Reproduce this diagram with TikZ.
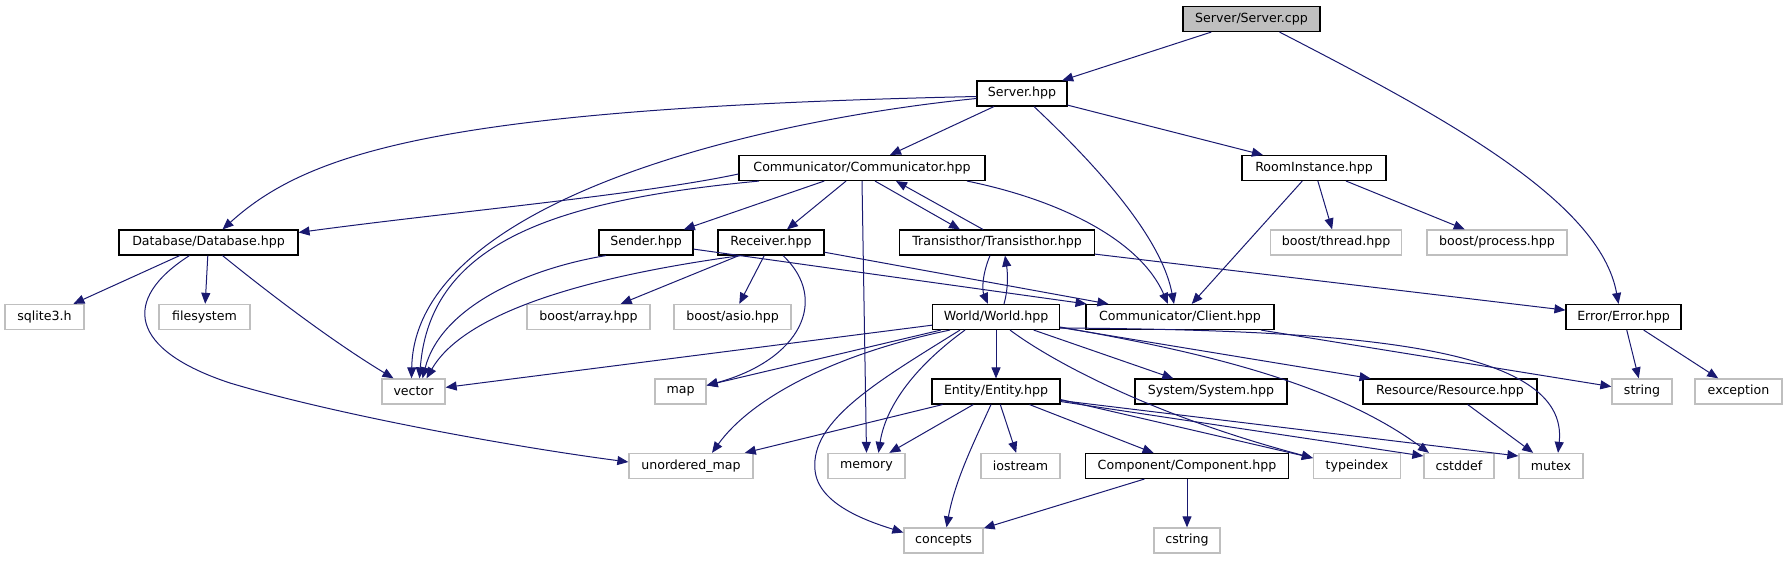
\documentclass[tikz,border=0pt]{standalone}
\usepackage{fontspec}
\setmainfont{DejaVu Sans}
\usetikzlibrary{arrows.meta}
\definecolor{edgeblue}{HTML}{191970}
\definecolor{extgrey}{HTML}{BFBFBF}
\tikzset{
  incbox/.style={draw=black, fill=white, line width=1.1pt, minimum height=25pt,
    inner xsep=2pt, inner ysep=0pt, font=\fontsize{12.6}{14}\selectfont},
  extbox/.style={incbox, draw=extgrey, line width=1.3pt},
  srcbox/.style={incbox, fill=extgrey},
  inc/.style={-{Triangle[length=11pt,width=9pt]}, draw=edgeblue, line width=1pt},
}
\begin{document}
\begin{tikzpicture}[x=1pt, y=-1pt]
    \useasboundingbox (0,0) rectangle (1788,560);
    % rank 1 and 2
    \node[srcbox, minimum width=137pt] (cpp) at (1251.5,19) {Server/Server.cpp};
    \node[incbox, minimum width=90pt] (srvh) at (1022,93.5) {Server.hpp};
    % rank 3
    \node[incbox, minimum width=246pt] (comm) at (862,168) {Communicator/Communicator.hpp};
    \node[incbox, minimum width=144pt] (room) at (1314,168) {RoomInstance.hpp};
    % rank 4
    \node[incbox, minimum width=179pt] (db) at (208.5,242.5) {Database/Database.hpp};
    \node[incbox, minimum width=94pt] (send) at (646,242.5) {Sender.hpp};
    \node[incbox, minimum width=106pt] (recv) at (771,242.5) {Receiver.hpp};
    \node[incbox, minimum width=195pt] (trans) at (997,242.5) {Transisthor/Transisthor.hpp};
    \node[extbox, minimum width=131pt] (bthread) at (1336,242.5) {boost/thread.hpp};
    \node[extbox, minimum width=140pt] (bproc) at (1497,242.5) {boost/process.hpp};
    % rank 5
    \node[extbox, minimum width=79pt] (sqlite) at (44.5,317) {sqlite3.h};
    \node[extbox, minimum width=91pt] (fs) at (204.5,317) {filesystem};
    \node[extbox, minimum width=123pt] (barray) at (588.5,317) {boost/array.hpp};
    \node[extbox, minimum width=117pt] (basio) at (732.5,317) {boost/asio.hpp};
    \node[incbox, minimum width=127pt] (world) at (996,317) {World/World.hpp};
    \node[incbox, minimum width=188pt] (client) at (1180,317) {Communicator/Client.hpp};
    \node[incbox, minimum width=115pt] (err) at (1623.5,317) {Error/Error.hpp};
    % rank 6
    \node[extbox, minimum width=63pt] (vec) at (413.5,391.5) {vector};
    \node[extbox, minimum width=51pt] (map) at (680.5,391.5) {map};
    \node[incbox, minimum width=128pt] (entity) at (996,391.5) {Entity/Entity.hpp};
    \node[incbox, minimum width=152pt] (sys) at (1211,391.5) {System/System.hpp};
    \node[incbox, minimum width=174pt] (res) at (1450,391.5) {Resource/Resource.hpp};
    \node[extbox, minimum width=60pt] (str) at (1642,391.5) {string};
    \node[extbox, minimum width=87pt] (exc) at (1738.5,391.5) {exception};
    % rank 7
    \node[extbox, minimum width=124pt] (umap) at (691,466) {unordered\_map};
    \node[extbox, minimum width=77pt] (mem) at (866.5,466) {memory};
    \node[extbox, minimum width=79pt] (ios) at (1020.5,466) {iostream};
    \node[incbox, minimum width=203pt] (comp) at (1187,466) {Component/Component.hpp};
    \node[extbox, minimum width=87pt] (tidx) at (1357,466) {typeindex};
    \node[extbox, minimum width=70pt] (cstddef) at (1459,466) {cstddef};
    \node[extbox, minimum width=64pt] (mutex) at (1551,466) {mutex};
    % rank 8
    \node[extbox, minimum width=79pt] (concepts) at (943.5,540.5) {concepts};
    \node[extbox, minimum width=66pt] (cstring) at (1187,540.5) {cstring};

    % Server/Server.cpp
    \draw[inc] (cpp) -- (srvh);
    \draw[inc] ([xshift=28pt]cpp.south) .. controls (1440,115) and (1600,200) .. ([xshift=-5pt]err.north);
    % Server.hpp
    \draw[inc] ([yshift=-3pt]srvh.west) .. controls (450,108) and (310,150) .. ([xshift=14pt]db.north);
    \draw[inc] ([yshift=-5pt]srvh.west) .. controls (760,120) and (415,200) .. ([xshift=-2pt]vec.north);
    \draw[inc] (srvh) -- (comm);
    \draw[inc] ([xshift=12pt]srvh.south) .. controls (1080,150) and (1160,230) .. ([xshift=-6pt]client.north);
    \draw[inc] (srvh) -- (room);
    % Communicator
    \draw[inc] ([yshift=-6pt]comm.west) .. controls (640,195) and (450,212) .. ([yshift=10pt]db.east);
    \draw[inc] ([xshift=-103pt]comm.south) .. controls (560,200) and (430,240) .. ([xshift=6pt]vec.north);
    \draw[inc] (comm) -- (send);
    \draw[inc] (comm) -- (recv);
    \draw[inc] (comm.south) -- (mem.north);
    \draw[inc] ([xshift=13pt]comm.south) -- ([xshift=-37pt]trans.north);
    \draw[inc] ([xshift=-14pt]trans.north) -- ([xshift=34pt]comm.south);
    \draw[inc] ([xshift=105pt]comm.south) .. controls (1060,200) and (1140,240) .. ([xshift=-12pt]client.north);
    % RoomInstance
    \draw[inc] (room) -- (client);
    \draw[inc] (room) -- (bthread);
    \draw[inc] (room) -- (bproc);
    % Database
    \draw[inc] (db) -- (sqlite);
    \draw[inc] (db) -- (fs);
    \draw[inc] ([xshift=14pt]db.south) .. controls (265,290) and (330,340) .. ([xshift=-20pt]vec.north);
    \draw[inc] ([xshift=-19pt]db.south) .. controls (120,300) and (130,350) .. (230,383)
        .. controls (330,413) and (500,445) .. ([yshift=4pt]umap.west);
    % Sender
    \draw[inc] ([xshift=-40pt]send.south) .. controls (520,270) and (440,310) .. ([xshift=9pt]vec.north);
    \draw[inc] (send) -- (client);
    % Receiver
    \draw[inc] ([xshift=-30pt]recv.south) .. controls (560,280) and (460,320) .. ([xshift=13pt]vec.north);
    \draw[inc] (recv) -- (barray);
    \draw[inc] (recv) -- (basio);
    \draw[inc] ([xshift=12pt]recv.south) .. controls (830,300) and (800,360) .. ([yshift=6pt]map.east);
    \draw[inc] (recv) -- (client);
    % Transisthor
    \draw[inc] ([xshift=-7pt]trans.south) .. controls (982,275) and (982,290) .. ([xshift=-8pt]world.north);
    \draw[inc] ([xshift=8pt]world.north) .. controls (1008,290) and (1008,275) .. ([xshift=8pt]trans.south);
    \draw[inc] (trans) -- (err);
    % World
    \draw[inc] (world) -- (vec);
    \draw[inc] (world) -- (map);
    \draw[inc] ([xshift=-46pt]world.south) .. controls (830,355) and (750,400) .. ([xshift=21pt]umap.north);
    \draw[inc] ([xshift=-31pt]world.south) .. controls (910,370) and (885,410) .. ([xshift=12pt]mem.north);
    \draw[inc] ([xshift=-36pt]world.south) .. controls (880,380) and (810,420) .. (815,470)
        .. controls (818,505) and (870,522) .. ([yshift=8pt]concepts.west);
    \draw[inc] (world) -- (entity);
    \draw[inc] (world) -- (sys);
    \draw[inc] (world) -- (res);
    \draw[inc] ([xshift=14pt]world.south) .. controls (1050,360) and (1150,415) .. ([yshift=8pt]tidx.west);
    \draw[inc] ([yshift=-10pt]world.east) .. controls (1190,350) and (1330,380) .. ([xshift=-30pt]cstddef.north);
    \draw[inc] ([yshift=-11pt]world.east) .. controls (1350,330) and (1570,345) .. ([xshift=7pt]mutex.north);
    % Entity
    \draw[inc] (entity) -- (umap);
    \draw[inc] (entity) -- (mem);
    \draw[inc] ([xshift=-5pt]entity.south) .. controls (975,440) and (955,480) .. ([xshift=3pt]concepts.north);
    \draw[inc] (entity) -- (ios);
    \draw[inc] (entity) -- (comp);
    \draw[inc] ([yshift=-8pt]entity.east) -- ([yshift=8pt]tidx.west);
    \draw[inc] ([yshift=-10pt]entity.east) -- ([yshift=10pt]cstddef.west);
    \draw[inc] ([yshift=-9pt]entity.east) -- ([yshift=10pt]mutex.west);
    % Component, Resource, Error, Client
    \draw[inc] (comp) -- (concepts);
    \draw[inc] (comp) -- (cstring);
    \draw[inc] (res) -- (mutex);
    \draw[inc] (err) -- (str);
    \draw[inc] (err) -- (exc);
    \draw[inc] (client) -- (str);
\end{tikzpicture}
\end{document}
